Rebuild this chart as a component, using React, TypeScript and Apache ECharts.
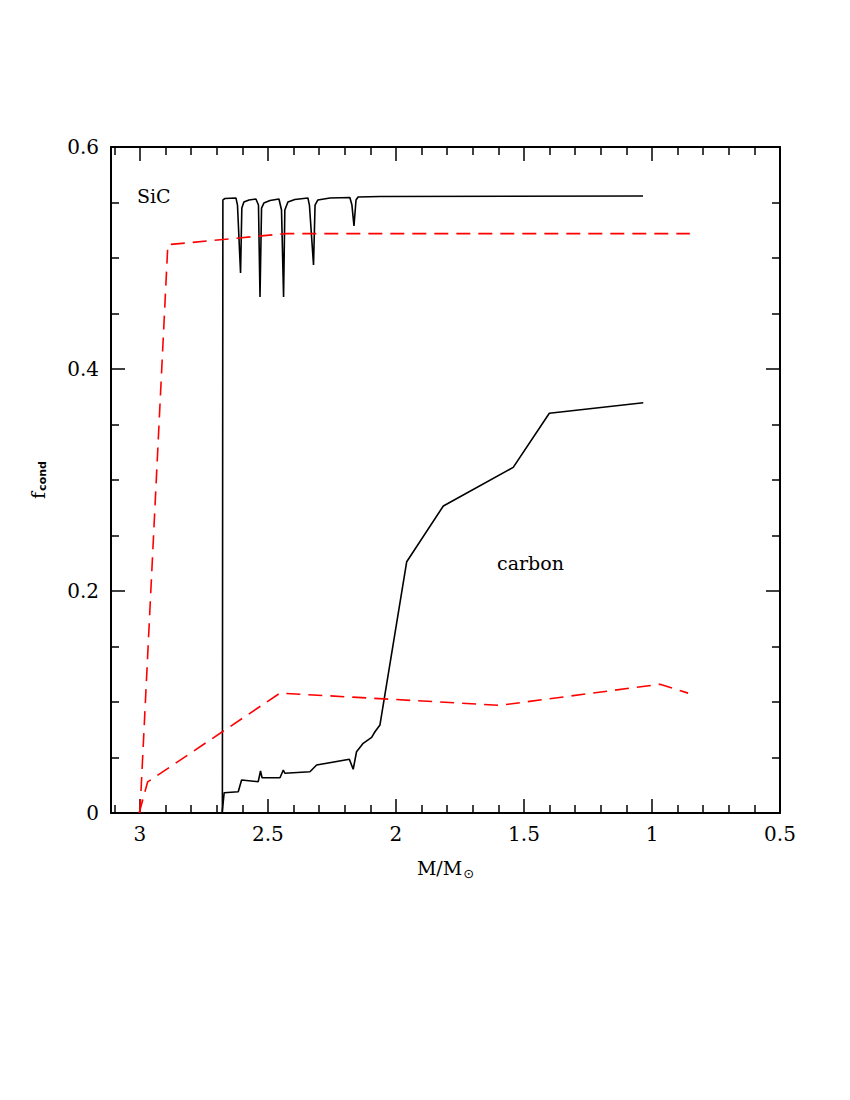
import React, { useEffect, useRef } from "react";
import * as echarts from "echarts";

// x: M/M_sun, y: f_cond
const sicModelX = [2.678, 2.676, 2.668, 2.625, 2.619, 2.607, 2.602, 2.594, 2.574, 2.547, 2.537, 2.531, 2.525, 2.516, 2.492, 2.457, 2.447, 2.439, 2.434, 2.422, 2.395, 2.344, 2.338, 2.322, 2.316, 2.305, 2.258, 2.18, 2.172, 2.164, 2.156, 2.148, 2.0625, 1.035];
const sicModelY = [0, 0.5523, 0.5536, 0.5541, 0.5477, 0.4865, 0.545, 0.5505, 0.5523, 0.5532, 0.5477, 0.4649, 0.545, 0.5495, 0.5518, 0.5532, 0.5432, 0.4649, 0.5432, 0.5505, 0.5527, 0.5541, 0.5477, 0.4937, 0.5477, 0.5523, 0.5541, 0.5545, 0.5477, 0.5288, 0.5523, 0.555, 0.5554, 0.5559];

const carbonModelX = [2.679, 2.671, 2.616, 2.603, 2.538, 2.529, 2.523, 2.453, 2.44, 2.434, 2.336, 2.31, 2.182, 2.167, 2.154, 2.128, 2.095, 2.082, 2.0625, 1.958, 1.815, 1.542, 1.401, 1.034];
const carbonModelY = [0, 0.0183, 0.0192, 0.0297, 0.0282, 0.0378, 0.0318, 0.0318, 0.0387, 0.0358, 0.0372, 0.0432, 0.0484, 0.0394, 0.0552, 0.0628, 0.0682, 0.0732, 0.0793, 0.2264, 0.2766, 0.3114, 0.3601, 0.3696];

const sicDashX = [3.0, 2.891, 2.43, 0.852];
const sicDashY = [0, 0.512, 0.522, 0.522];

const carbonDashX = [3.003, 2.97, 2.453, 1.594, 0.969, 0.859];
const carbonDashY = [0, 0.028, 0.108, 0.097, 0.116, 0.108];

const xTickValues = [3, 2.5, 2, 1.5, 1, 0.5];
const yTickValues = [0, 0.2, 0.4, 0.6];

const zip = (xs: number[], ys: number[]) => xs.map((x, i) => [x, ys[i]]);

export default function App() {
  const ref = useRef<HTMLDivElement>(null);
  useEffect(() => {
    if (!ref.current) return;
    const chart = echarts.init(ref.current, undefined, { renderer: "svg" });
    const axisLine = { show: true, onZero: false, lineStyle: { color: "#000", width: 2 } };
    const majorTick = { show: true, inside: true, length: 14, lineStyle: { color: "#000", width: 1.5 } };
    const minorTick = { show: true, length: 8, lineStyle: { color: "#000", width: 1.5 } };
    const labelFont = { fontFamily: "DejaVu Serif", fontSize: 20, color: "#000" };
    const xCommon = {
      type: "value" as const,
      inverse: true,
      min: 0.5,
      max: 3.113,
      interval: 0.5,
      axisLine,
      axisTick: majorTick,
      minorTick: { ...minorTick, splitNumber: 5 },
      splitLine: { show: false },
    };
    const yCommon = {
      type: "value" as const,
      min: 0,
      max: 0.6,
      interval: 0.2,
      axisLine,
      axisTick: majorTick,
      minorTick: { ...minorTick, splitNumber: 4 },
      splitLine: { show: false },
    };
    chart.setOption({
      animation: false,
      backgroundColor: "#fff",
      grid: { left: 111, right: 70, top: 147, bottom: 287, containLabel: false },
      xAxis: [
        {
          ...xCommon,
          position: "bottom",
          axisLabel: {
            ...labelFont,
            margin: 11,
            showMaxLabel: false,
            formatter: (v: number) => (xTickValues.includes(+v.toFixed(2)) ? String(+v.toFixed(2)) : ""),
          },
          name: "{m|M/M}{s|⊙}",
          nameLocation: "middle",
          nameGap: 42,
          nameTextStyle: {
            rich: {
              m: { fontFamily: "DejaVu Serif", fontSize: 19, color: "#000" },
              s: { fontFamily: "DejaVu Sans", fontSize: 13, color: "#000", padding: [12, 0, 0, 1] },
            },
          },
        },
        { ...xCommon, position: "top", axisLabel: { show: false } },
      ],
      yAxis: [
        {
          ...yCommon,
          position: "left",
          axisLabel: {
            ...labelFont,
            margin: 12,
            formatter: (v: number) => (yTickValues.includes(+v.toFixed(2)) ? String(+v.toFixed(2)) : ""),
          },
          name: "{f|f}{s|cond}",
          nameLocation: "middle",
          nameGap: 63,
          nameRotate: 90,
          nameTextStyle: {
            rich: {
              f: { fontFamily: "DejaVu Serif", fontSize: 19, color: "#000" },
              s: { fontFamily: "DejaVu Sans", fontSize: 11, fontWeight: "bold", color: "#000", padding: [10, 0, 0, 1] },
            },
          },
        },
        { ...yCommon, position: "right", axisLabel: { show: false } },
      ],
      series: [
        {
          name: "SiC model",
          type: "line",
          data: zip(sicModelX, sicModelY),
          showSymbol: false,
          symbol: "none",
          lineStyle: { color: "#000", width: 1.6 },
        },
        {
          name: "carbon model",
          type: "line",
          data: zip(carbonModelX, carbonModelY),
          showSymbol: false,
          symbol: "none",
          lineStyle: { color: "#000", width: 1.6 },
        },
        {
          name: "SiC obs",
          type: "line",
          data: zip(sicDashX, sicDashY),
          showSymbol: false,
          symbol: "none",
          lineStyle: { color: "#ff0000", width: 1.6, type: [14, 8] },
        },
        {
          name: "carbon obs",
          type: "line",
          data: zip(carbonDashX, carbonDashY),
          showSymbol: false,
          symbol: "none",
          lineStyle: { color: "#ff0000", width: 1.6, type: [14, 8] },
        },
      ],
      graphic: [
        {
          type: "text",
          left: 137,
          top: 186,
          style: { text: "SiC", fontFamily: "DejaVu Serif", fontSize: 19, fill: "#000" },
        },
        {
          type: "text",
          left: 497,
          top: 553,
          style: { text: "carbon", fontFamily: "DejaVu Serif", fontSize: 19, fill: "#000" },
        },
      ],
    });
    return () => chart.dispose();
  }, []);
  return <div ref={ref} style={{ position: "absolute", left: 0, top: 0, width: 850, height: 1100 }} />;
}
